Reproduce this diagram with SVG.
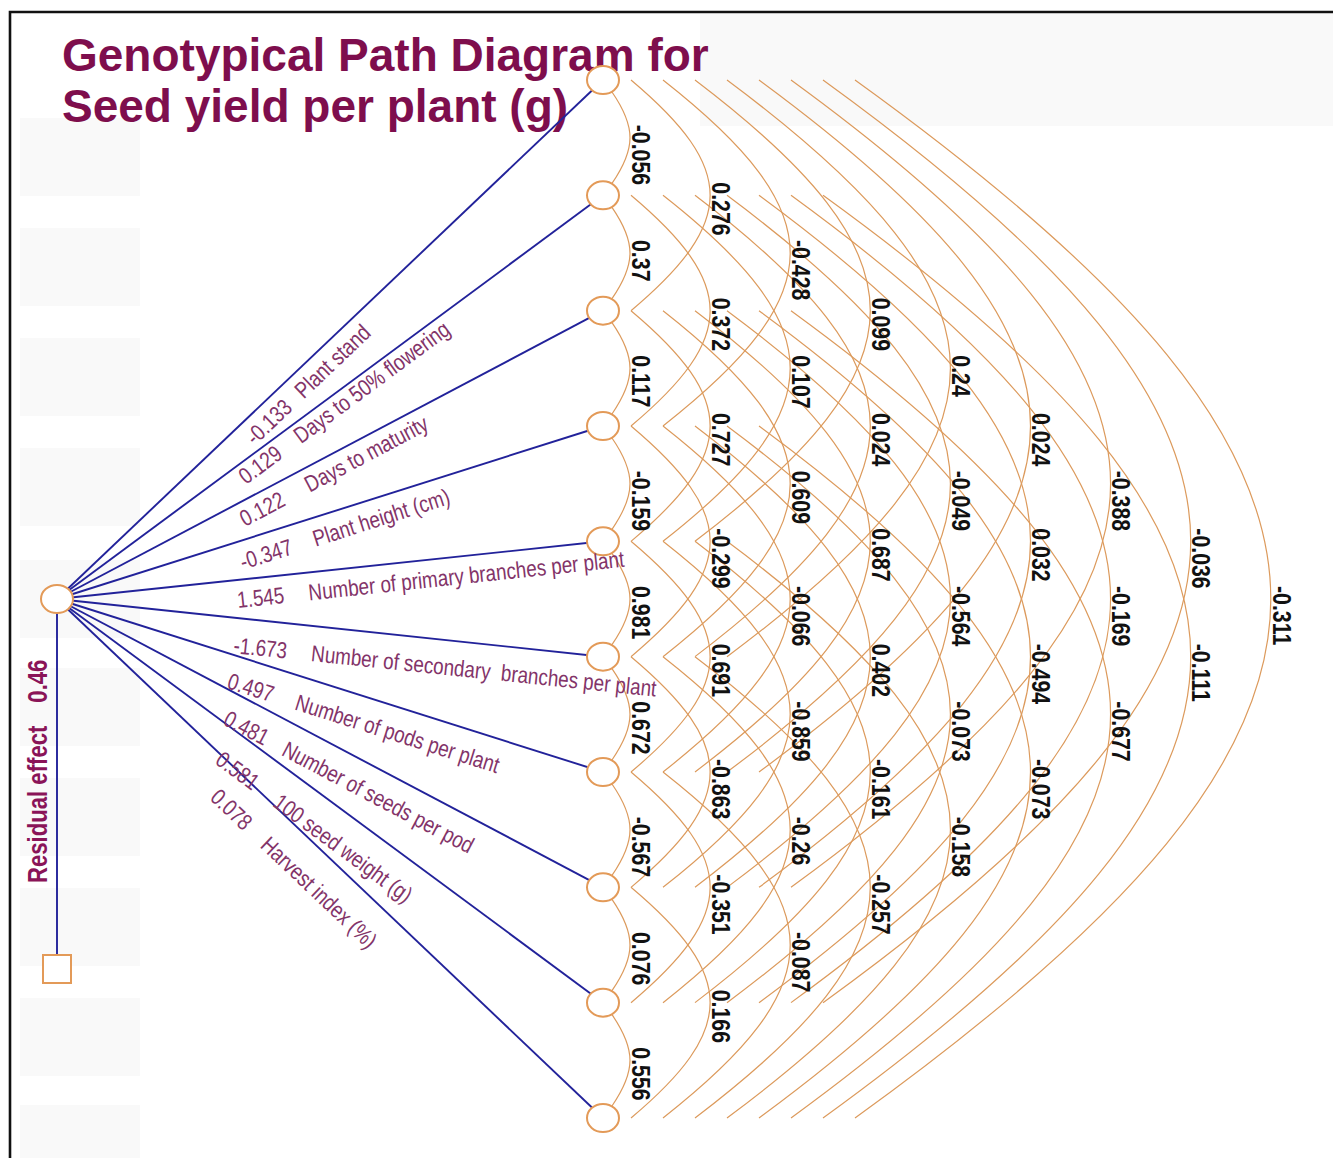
<svg xmlns="http://www.w3.org/2000/svg" xmlns:xlink="http://www.w3.org/1999/xlink" width="1333" height="1158" viewBox="0 0 1333 1158">
<style>
.arc{fill:none;stroke:#DC9A5C;stroke-width:1.2}
.node{fill:#fff;stroke:#E39A58;stroke-width:2}
.pth{stroke:#22229A;stroke-width:1.9;fill:none}
.r{font-family:'Liberation Sans',Arial,sans-serif;font-weight:bold;font-size:26px;fill:#111}
.pl{font-family:'Liberation Sans',Arial,sans-serif;font-size:23px;fill:#833469}
.title{font-family:'Liberation Sans',Arial,sans-serif;font-weight:bold;font-size:46px;fill:#7E0E4D}
.res{font-family:'Liberation Sans',Arial,sans-serif;font-weight:bold;font-size:27px;fill:#8A1458}
.bg{fill:#f9f9f9}
</style>
<defs>
<path id="a1" class="arc" d="M612,12 C636,47 636,68.3 612,103.3"/>
<path id="a2" class="arc" d="M631,0 C736.5,88.8 736.5,141.9 631,230.7"/>
<path id="a3" class="arc" d="M663,0 C832.6,133.2 832.6,212.8 663,346"/>
<path id="a4" class="arc" d="M695,0 C928.7,177.6 928.7,283.7 695,461.3"/>
<path id="a5" class="arc" d="M727,0 C1024.9,222 1024.9,354.7 727,576.7"/>
<path id="a6" class="arc" d="M759,0 C1121,266.4 1121,425.6 759,692"/>
<path id="a7" class="arc" d="M791,0 C1217.1,310.8 1217.1,496.5 791,807.3"/>
<path id="a8" class="arc" d="M823,0 C1313.3,355.2 1313.3,567.5 823,922.7"/>
<path id="a9" class="arc" d="M855,0 C1409.4,399.6 1409.4,638.4 855,1038"/>
</defs>
<rect width="1333" height="1158" fill="#fff"/>
<g id="background">
<rect class="bg" x="700" y="14" width="633" height="112"/>
<rect class="bg" x="20" y="118" width="120" height="78"/>
<rect class="bg" x="20" y="228" width="120" height="78"/>
<rect class="bg" x="20" y="338" width="120" height="78"/>
<rect class="bg" x="20" y="448" width="120" height="78"/>
<rect class="bg" x="20" y="560" width="120" height="78"/>
<rect class="bg" x="20" y="668" width="120" height="78"/>
<rect class="bg" x="20" y="778" width="120" height="78"/>
<rect class="bg" x="20" y="888" width="120" height="78"/>
<rect class="bg" x="20" y="998" width="120" height="78"/>
<rect class="bg" x="20" y="1105" width="120" height="53"/>
</g>
<path d="M10,1158 V12 H1333" fill="none" stroke="#111" stroke-width="2.6"/>
<g id="title">
<text class="title" x="62" y="71">Genotypical Path Diagram for</text>
<text class="title" x="62" y="122">Seed yield per plant (g)</text>
</g>
<g id="connectors">
<line class="pth" x1="57" y1="599" x2="603" y2="80"/>
<line class="pth" x1="57" y1="599" x2="603" y2="195.3"/>
<line class="pth" x1="57" y1="599" x2="603" y2="310.7"/>
<line class="pth" x1="57" y1="599" x2="603" y2="426"/>
<line class="pth" x1="57" y1="599" x2="603" y2="541.3"/>
<line class="pth" x1="57" y1="599" x2="603" y2="656.7"/>
<line class="pth" x1="57" y1="599" x2="603" y2="772"/>
<line class="pth" x1="57" y1="599" x2="603" y2="887.3"/>
<line class="pth" x1="57" y1="599" x2="603" y2="1002.7"/>
<line class="pth" x1="57" y1="599" x2="603" y2="1118"/>
<line class="pth" x1="57" y1="613" x2="57" y2="955"/>
<use xlink:href="#a1" y="80"/><use xlink:href="#a1" y="195.33"/><use xlink:href="#a1" y="310.67"/><use xlink:href="#a1" y="426"/><use xlink:href="#a1" y="541.33"/><use xlink:href="#a1" y="656.67"/><use xlink:href="#a1" y="772"/><use xlink:href="#a1" y="887.33"/><use xlink:href="#a1" y="1002.67"/>
<use xlink:href="#a2" y="80"/><use xlink:href="#a2" y="195.33"/><use xlink:href="#a2" y="310.67"/><use xlink:href="#a2" y="426"/><use xlink:href="#a2" y="541.33"/><use xlink:href="#a2" y="656.67"/><use xlink:href="#a2" y="772"/><use xlink:href="#a2" y="887.33"/>
<use xlink:href="#a3" y="80"/><use xlink:href="#a3" y="195.33"/><use xlink:href="#a3" y="310.67"/><use xlink:href="#a3" y="426"/><use xlink:href="#a3" y="541.33"/><use xlink:href="#a3" y="656.67"/><use xlink:href="#a3" y="772"/>
<use xlink:href="#a4" y="80"/><use xlink:href="#a4" y="195.33"/><use xlink:href="#a4" y="310.67"/><use xlink:href="#a4" y="426"/><use xlink:href="#a4" y="541.33"/><use xlink:href="#a4" y="656.67"/>
<use xlink:href="#a5" y="80"/><use xlink:href="#a5" y="195.33"/><use xlink:href="#a5" y="310.67"/><use xlink:href="#a5" y="426"/><use xlink:href="#a5" y="541.33"/>
<use xlink:href="#a6" y="80"/><use xlink:href="#a6" y="195.33"/><use xlink:href="#a6" y="310.67"/><use xlink:href="#a6" y="426"/>
<use xlink:href="#a7" y="80"/><use xlink:href="#a7" y="195.33"/><use xlink:href="#a7" y="310.67"/>
<use xlink:href="#a8" y="80"/><use xlink:href="#a8" y="195.33"/>
<use xlink:href="#a9" y="80"/>
</g>
<g id="n-yield"><ellipse class="node" cx="57" cy="599" rx="16" ry="14"/></g>
<g id="n-residual"><rect class="node" x="43" y="955" width="28" height="28"/></g>
<g id="n1"><ellipse class="node" cx="603" cy="80" rx="16" ry="14"/></g>
<g id="n2"><ellipse class="node" cx="603" cy="195.33" rx="16" ry="14"/></g>
<g id="n3"><ellipse class="node" cx="603" cy="310.67" rx="16" ry="14"/></g>
<g id="n4"><ellipse class="node" cx="603" cy="426" rx="16" ry="14"/></g>
<g id="n5"><ellipse class="node" cx="603" cy="541.33" rx="16" ry="14"/></g>
<g id="n6"><ellipse class="node" cx="603" cy="656.67" rx="16" ry="14"/></g>
<g id="n7"><ellipse class="node" cx="603" cy="772" rx="16" ry="14"/></g>
<g id="n8"><ellipse class="node" cx="603" cy="887.33" rx="16" ry="14"/></g>
<g id="n9"><ellipse class="node" cx="603" cy="1002.67" rx="16" ry="14"/></g>
<g id="n10"><ellipse class="node" cx="603" cy="1118" rx="16" ry="14"/></g>
<g id="residual-label">
<text class="res" transform="translate(47,883) rotate(-90) scale(0.82,1)">Residual effect<tspan dx="28">0.46</tspan></text>
</g>
<g id="path-labels">
<text class="pl" transform="translate(255,446) rotate(-43.6) scale(0.82,1)">-0.133<tspan dx="17">Plant stand</tspan></text>
<text class="pl" transform="translate(246,485) rotate(-36.5) scale(0.82,1)">0.129<tspan dx="26">Days to 50% flowering</tspan></text>
<text class="pl" transform="translate(245,527) rotate(-27.9) scale(0.82,1)">0.122<tspan dx="32">Days to maturity</tspan></text>
<text class="pl" transform="translate(243,570) rotate(-17.7) scale(0.82,1)">-0.347<tspan dx="28">Plant height (cm)</tspan></text>
<text class="pl" transform="translate(238,608) rotate(-6.1) scale(0.82,1)">1.545<tspan dx="30">Number of primary branches per plant</tspan></text>
<text class="pl" xml:space="preserve" transform="translate(233,653) rotate(5.9) scale(0.82,1)">-1.673<tspan dx="30">Number of secondary  branches per plant</tspan></text>
<text class="pl" transform="translate(226,688) rotate(17.5) scale(0.82,1)">0.497<tspan dx="29">Number of pods per plant</tspan></text>
<text class="pl" transform="translate(222,724) rotate(27.8) scale(0.82,1)">0.481<tspan dx="23">Number of seeds per pod</tspan></text>
<text class="pl" transform="translate(214,763) rotate(36.4) scale(0.82,1)">0.581<tspan dx="30">100 seed weight (g)</tspan></text>
<text class="pl" transform="translate(209,799) rotate(43.5) scale(0.82,1)">0.078<tspan dx="27">Harvest index  (%)</tspan></text>
</g>
<g id="correlation-labels">
<text class="r" transform="translate(632,124.7) rotate(90) scale(0.82,1)">-0.056</text>
<text class="r" transform="translate(632,240) rotate(90) scale(0.82,1)">0.37</text>
<text class="r" transform="translate(632,355.3) rotate(90) scale(0.82,1)">0.117</text>
<text class="r" transform="translate(632,470.7) rotate(90) scale(0.82,1)">-0.159</text>
<text class="r" transform="translate(632,586) rotate(90) scale(0.82,1)">0.981</text>
<text class="r" transform="translate(632,701.3) rotate(90) scale(0.82,1)">0.672</text>
<text class="r" transform="translate(632,816.7) rotate(90) scale(0.82,1)">-0.567</text>
<text class="r" transform="translate(632,932) rotate(90) scale(0.82,1)">0.076</text>
<text class="r" transform="translate(632,1047.3) rotate(90) scale(0.82,1)">0.556</text>
<text class="r" transform="translate(712,182.3) rotate(90) scale(0.82,1)">0.276</text>
<text class="r" transform="translate(712,297.7) rotate(90) scale(0.82,1)">0.372</text>
<text class="r" transform="translate(712,413) rotate(90) scale(0.82,1)">0.727</text>
<text class="r" transform="translate(712,528.3) rotate(90) scale(0.82,1)">-0.299</text>
<text class="r" transform="translate(712,643.7) rotate(90) scale(0.82,1)">0.691</text>
<text class="r" transform="translate(712,759) rotate(90) scale(0.82,1)">-0.863</text>
<text class="r" transform="translate(712,874.3) rotate(90) scale(0.82,1)">-0.351</text>
<text class="r" transform="translate(712,989.7) rotate(90) scale(0.82,1)">0.166</text>
<text class="r" transform="translate(792,240) rotate(90) scale(0.82,1)">-0.428</text>
<text class="r" transform="translate(792,355.3) rotate(90) scale(0.82,1)">0.107</text>
<text class="r" transform="translate(792,470.7) rotate(90) scale(0.82,1)">0.609</text>
<text class="r" transform="translate(792,586) rotate(90) scale(0.82,1)">-0.066</text>
<text class="r" transform="translate(792,701.3) rotate(90) scale(0.82,1)">-0.859</text>
<text class="r" transform="translate(792,816.7) rotate(90) scale(0.82,1)">-0.26</text>
<text class="r" transform="translate(792,932) rotate(90) scale(0.82,1)">-0.087</text>
<text class="r" transform="translate(872,297.7) rotate(90) scale(0.82,1)">0.099</text>
<text class="r" transform="translate(872,413) rotate(90) scale(0.82,1)">0.024</text>
<text class="r" transform="translate(872,528.3) rotate(90) scale(0.82,1)">0.687</text>
<text class="r" transform="translate(872,643.7) rotate(90) scale(0.82,1)">0.402</text>
<text class="r" transform="translate(872,759) rotate(90) scale(0.82,1)">-0.161</text>
<text class="r" transform="translate(872,874.3) rotate(90) scale(0.82,1)">-0.257</text>
<text class="r" transform="translate(952,355.3) rotate(90) scale(0.82,1)">0.24</text>
<text class="r" transform="translate(952,470.7) rotate(90) scale(0.82,1)">-0.049</text>
<text class="r" transform="translate(952,586) rotate(90) scale(0.82,1)">-0.564</text>
<text class="r" transform="translate(952,701.3) rotate(90) scale(0.82,1)">-0.073</text>
<text class="r" transform="translate(952,816.7) rotate(90) scale(0.82,1)">-0.158</text>
<text class="r" transform="translate(1032,413) rotate(90) scale(0.82,1)">0.024</text>
<text class="r" transform="translate(1032,528.3) rotate(90) scale(0.82,1)">0.032</text>
<text class="r" transform="translate(1032,643.7) rotate(90) scale(0.82,1)">-0.494</text>
<text class="r" transform="translate(1032,759) rotate(90) scale(0.82,1)">-0.073</text>
<text class="r" transform="translate(1112,470.7) rotate(90) scale(0.82,1)">-0.388</text>
<text class="r" transform="translate(1112,586) rotate(90) scale(0.82,1)">-0.169</text>
<text class="r" transform="translate(1112,701.3) rotate(90) scale(0.82,1)">-0.677</text>
<text class="r" transform="translate(1192,528.3) rotate(90) scale(0.82,1)">-0.036</text>
<text class="r" transform="translate(1192,643.7) rotate(90) scale(0.82,1)">-0.111</text>
<text class="r" transform="translate(1273,586) rotate(90) scale(0.82,1)">-0.311</text>
</g>
</svg>
